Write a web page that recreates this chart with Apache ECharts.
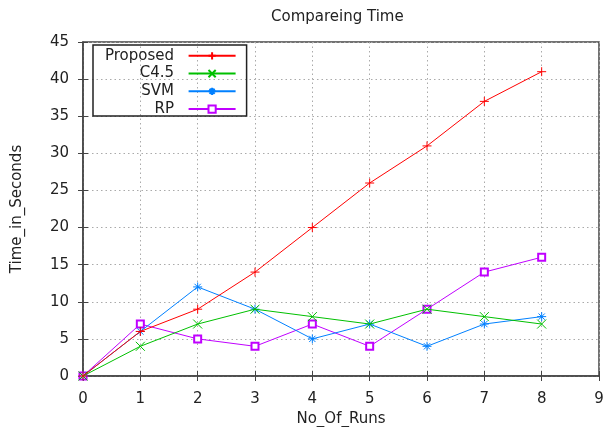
<html>
<head>
    <script src="https://cdn.jsdelivr.net/npm/echarts@6/dist/echarts.min.js"></script>
    <style>
        body { margin: 0; background: #fff; }
        #graph { width: 603px; height: 427px; }
    </style>
</head>
<body>
    <div id="graph"></div>
    <script>
        // values
        var runs = [0, 1, 2, 3, 4, 5, 6, 7, 8];
        var seriesNames = ['Proposed', 'C4.5', 'SVM', 'RP'];
        var proposed = [0, 6, 9, 14, 20, 26, 31, 37, 41];
        var c45 = [0, 4, 7, 9, 8, 7, 9, 8, 7];
        var svm = [0, 6, 12, 9, 5, 7, 4, 7, 8];
        var rp = [0, 7, 5, 4, 7, 4, 9, 14, 16];

        var colors = ['#ff0000', '#00c000', '#0080ff', '#c000ff'];
        var symbols = [
            'path://M5,0L5,10M0,5L10,5',
            'path://M0,0L10,10M10,0L0,10',
            'path://M5,0L5,10M0,5L10,5M1.5,1.5L8.5,8.5M8.5,1.5L1.5,8.5',
            'emptyRect'
        ];
        var allValues = [proposed, c45, svm, rp];

        var font = 'DejaVu Sans';

        var series = allValues.map(function (vals, i) {
            return {
                name: seriesNames[i],
                type: 'line',
                data: runs.map(function (r, j) { return [r, vals[j]]; }),
                symbol: symbols[i],
                symbolSize: i === 3 ? 7 : 9,
                color: colors[i],
                lineStyle: { width: 1, color: colors[i] },
                itemStyle: { color: colors[i], borderColor: colors[i], borderWidth: 1 },
                z: 10 - i,
                animation: false
            };
        });

        var chart = echarts.init(document.getElementById('graph'));
        var option = {
            animation: false,
            backgroundColor: '#fff',
            title: {
                text: 'Compareing Time',
                left: 271,
                top: 2,
                padding: 0,
                textStyle: { fontFamily: font, fontSize: 15, fontWeight: 'normal', color: '#222' }
            },
            legend: {
                data: seriesNames,
                orient: 'vertical',
                align: 'right',
                left: 93,
                top: 45,
                padding: [-4, 10, -8, 12],
                itemWidth: 47,
                itemHeight: 9,
                itemGap: -12,
                borderColor: '#222',
                borderWidth: 1.5,
                formatter: function (name) { return name + '  '; },
                textStyle: { fontFamily: font, fontSize: 15, lineHeight: 15, color: '#222' }
            },
            grid: {
                left: 83, right: 4, top: 42, bottom: 51,
                outerBoundsMode: 'none',
                containLabel: false,
                show: true, borderColor: '#444', borderWidth: 1.5
            },
            xAxis: [{
                type: 'value', min: 0, max: 9, interval: 1,
                name: 'No_Of_Runs', nameLocation: 'middle', nameGap: 28,
                nameMoveOverlap: false,
                nameTextStyle: { fontFamily: font, fontSize: 15, color: '#222' },
                axisLine: { lineStyle: { color: '#444', width: 1.5 } },
                axisTick: { inside: true, length: 5, lineStyle: { color: '#444' } },
                axisLabel: { fontFamily: font, fontSize: 15, color: '#222', margin: 8 },
                splitLine: { show: true, lineStyle: { type: [1.5, 3], color: '#aaa' } }
            }, {
                type: 'value', min: 0, max: 9, interval: 1, position: 'top',
                axisLine: { show: false },
                axisTick: { inside: true, length: 5, lineStyle: { color: '#444' } },
                axisLabel: { show: false },
                splitLine: { show: false }
            }],
            yAxis: [{
                type: 'value', min: 0, max: 45, interval: 5,
                name: 'Time_in_Seconds', nameLocation: 'middle', nameGap: 51,
                nameMoveOverlap: false,
                nameTextStyle: { fontFamily: font, fontSize: 15, color: '#222' },
                axisLine: { show: true, lineStyle: { color: '#444', width: 1.5 } },
                axisTick: { show: true, inside: true, length: 5, lineStyle: { color: '#444' } },
                axisLabel: { fontFamily: font, fontSize: 15, color: '#222', margin: 14 },
                splitLine: { show: true, lineStyle: { type: [1.5, 3], color: '#aaa' } }
            }, {
                type: 'value', min: 0, max: 45, interval: 5, position: 'right',
                axisLine: { show: false },
                axisTick: { show: true, inside: true, length: 5, lineStyle: { color: '#444' } },
                axisLabel: { show: false },
                splitLine: { show: false }
            }],
            series: series
        };
        chart.setOption(option);
    </script>
</body>
</html>
